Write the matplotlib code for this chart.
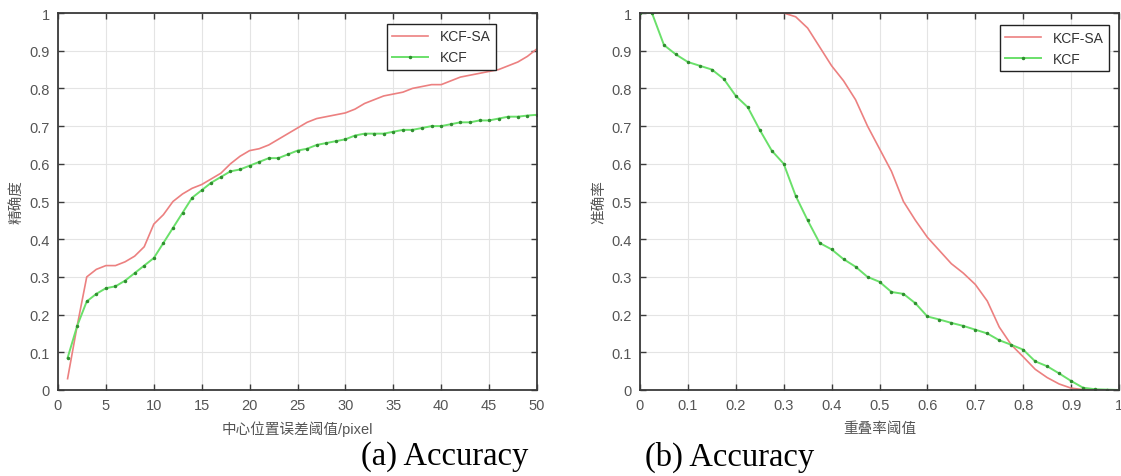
import numpy as np
import matplotlib.pyplot as plt
import matplotlib as mpl

mpl.rcParams['font.family'] = ['Liberation Sans', 'Noto Sans CJK SC', 'DejaVu Sans']

# ---------------------------------------------------------------
# (a) precision vs. centre location error threshold
# ---------------------------------------------------------------
thrA = list(range(1, 51))
kcfsaA = [0.03, 0.17, 0.30, 0.32, 0.33, 0.33, 0.34, 0.355, 0.38, 0.44,
          0.465, 0.50, 0.52, 0.535, 0.545, 0.56, 0.575, 0.60, 0.62, 0.635,
          0.64, 0.65, 0.665, 0.68, 0.695, 0.71, 0.72, 0.725, 0.73, 0.735,
          0.745, 0.76, 0.77, 0.78, 0.785, 0.79, 0.80, 0.805, 0.81, 0.81,
          0.82, 0.83, 0.835, 0.84, 0.845, 0.85, 0.86, 0.87, 0.885, 0.905]
kcfA = [0.085, 0.17, 0.235, 0.255, 0.27, 0.275, 0.29, 0.31, 0.33, 0.35,
        0.39, 0.43, 0.47, 0.51, 0.53, 0.55, 0.565, 0.58, 0.585, 0.595,
        0.605, 0.615, 0.615, 0.625, 0.635, 0.64, 0.65, 0.655, 0.66, 0.665,
        0.675, 0.68, 0.68, 0.68, 0.685, 0.69, 0.69, 0.695, 0.70, 0.70,
        0.705, 0.71, 0.71, 0.715, 0.715, 0.72, 0.725, 0.725, 0.728, 0.73]

# ---------------------------------------------------------------
# (b) success rate vs. overlap threshold
# ---------------------------------------------------------------
thrB = [i * 0.025 for i in range(41)]
kcfsaB = [1.0, 1.0, 1.0, 1.0, 1.0, 1.0, 1.0, 1.0, 1.0, 1.0,
          1.0, 1.0, 1.0, 0.99, 0.96, 0.91, 0.86, 0.82, 0.77, 0.70,
          0.64, 0.58, 0.50, 0.45, 0.405, 0.37, 0.335, 0.31, 0.28, 0.236,
          0.167, 0.12, 0.088, 0.055, 0.033, 0.016, 0.005, 0.001, 0.0, 0.0, 0.0]
kcfB = [1.0, 1.0, 0.915, 0.89, 0.87, 0.86, 0.85, 0.825, 0.78, 0.75,
        0.69, 0.635, 0.60, 0.515, 0.45, 0.39, 0.373, 0.347, 0.327, 0.30,
        0.287, 0.26, 0.255, 0.23, 0.195, 0.187, 0.178, 0.17, 0.16, 0.15,
        0.132, 0.12, 0.107, 0.076, 0.063, 0.044, 0.024, 0.006, 0.002, 0.001, 0.0]

legendNames = ['KCF-SA', 'KCF']

redC   = '#ec8080'
greenC = '#6ae06a'
dotC   = '#2f8f2f'
tickC  = '#555555'


def styleAxes(ax):
    ax.grid(True, color='#e4e4e4', linewidth=0.8)
    ax.set_axisbelow(True)
    for s in ['right', 'top', 'left', 'bottom']:
        ax.spines[s].set_color('#3a3a3a')
        ax.spines[s].set_linewidth(1.3)
    ax.tick_params(direction='in', top=True, right=True, length=4,
                   width=1, color='#3a3a3a', labelcolor=tickC, labelsize=10.5, pad=6)


fig = plt.figure(figsize=(11.21, 4.77), dpi=100)
axA = fig.add_axes([58/1121, 86/477, 479/1121, 377/477])
axB = fig.add_axes([640/1121, 86/477, 479/1121, 377/477])

# ---- left panel ----
axA.plot(thrA, kcfsaA, color=redC, lw=1.2, label=legendNames[0])
axA.plot(thrA, kcfA, color=greenC, lw=1.4, marker='.', ms=3,
         mfc=dotC, mec=dotC, label=legendNames[1])
axA.set_xlim(0, 50)
axA.set_ylim(0, 1)
axA.set_xticks(np.arange(0, 51, 5))
axA.set_yticks(np.arange(0, 1.01, 0.1))
axA.set_yticklabels(['0', '0.1', '0.2', '0.3', '0.4', '0.5', '0.6', '0.7', '0.8', '0.9', '1'])
styleAxes(axA)
axA.set_xlabel('中心位置误差阈值/pixel', fontsize=10.5, color=tickC, labelpad=6)
axA.set_ylabel('精确度', fontsize=10.5, color=tickC, labelpad=4)
axA.legend(loc='upper right', bbox_to_anchor=(0.914, 0.971), borderaxespad=0,
           fontsize=10, handlelength=2.6, frameon=True, fancybox=False,
           edgecolor='#222222', framealpha=1, labelcolor='#333333')

# ---- right panel ----
axB.plot(thrB, kcfsaB, color=redC, lw=1.2, label=legendNames[0])
axB.plot(thrB, kcfB, color=greenC, lw=1.4, marker='.', ms=3,
         mfc=dotC, mec=dotC, label=legendNames[1])
axB.set_xlim(0, 1)
axB.set_ylim(0, 1)
axB.set_xticks(np.arange(0, 1.01, 0.1))
axB.set_xticklabels(['0', '0.1', '0.2', '0.3', '0.4', '0.5', '0.6', '0.7', '0.8', '0.9', '1'])
axB.set_yticks(np.arange(0, 1.01, 0.1))
axB.set_yticklabels(['0', '0.1', '0.2', '0.3', '0.4', '0.5', '0.6', '0.7', '0.8', '0.9', '1'])
styleAxes(axB)
axB.set_xlabel('重叠率阈值', fontsize=10.5, color=tickC, labelpad=6)
axB.set_ylabel('准确率', fontsize=10.5, color=tickC, labelpad=4)
axB.legend(loc='upper right', bbox_to_anchor=(0.979, 0.968), borderaxespad=0,
           fontsize=10, handlelength=2.6, frameon=True, fancybox=False,
           edgecolor='#222222', framealpha=1, labelcolor='#333333')

# captions
fig.text(445/1121, 20/477, '(a) Accuracy', ha='center', va='center',
         family='Liberation Serif', fontsize=23.5)
fig.text(730/1121, 20/477, '(b) Accuracy', ha='center', va='center',
         family='Liberation Serif', fontsize=23.5)

plt.savefig('out.png', dpi=100)
